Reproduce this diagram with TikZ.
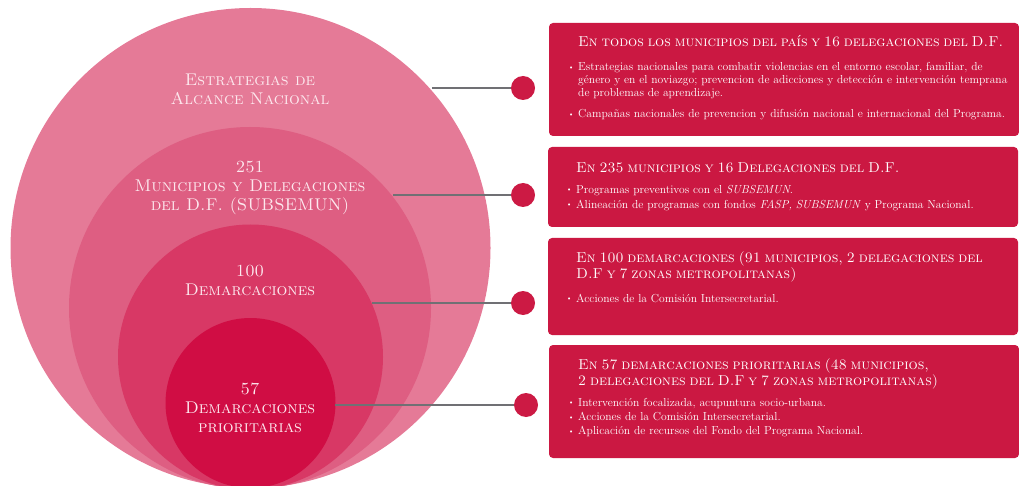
\documentclass[tikz,border=0pt]{standalone}
\usepackage{fontspec}
\usepackage{tikz}
\usetikzlibrary{positioning}
\definecolor{ringA}{HTML}{E57A97}
\definecolor{ringB}{HTML}{DE5E82}
\definecolor{ringC}{HTML}{D83865}
\definecolor{ringD}{HTML}{D00D44}
\definecolor{panelred}{HTML}{CB1842}
\definecolor{knobred}{HTML}{CC1A44}
\definecolor{linkgray}{HTML}{707074}
\definecolor{ringtext}{HTML}{FDE8EE}
\newcommand{\itm}{\par\noindent\hangindent=10pt\hangafter=1\makebox[10pt][l]{\raisebox{1.2pt}{\scriptsize\textbullet}}}
\newcommand{\hdr}[1]{{\leftskip=10pt\scshape\fontsize{14.4}{16}\selectfont #1\par}}
\tikzset{
 ring/.style = {circle, draw = none, inner sep = 0pt, outer sep = 0pt},
 ringlabel/.style = {align = center, text = ringtext, font = \fontsize{17}{19}\selectfont\scshape},
 panel/.style = {draw = none, fill = panelred, rounded corners = 4pt, anchor = north west, minimum width = 470pt, inner sep = 0pt, outer sep = 0pt},
 paneltext/.style = {anchor = north west, text width = 442pt, inner sep = 0pt, text = white, font = \fontsize{11.6}{14}\selectfont},
 knob/.style = {circle, fill = knobred, inner sep = 0pt, minimum size = 24pt},
 link/.style = {line width = 1.2pt, draw = linkgray}
}
\begin{document}
\begin{tikzpicture}[x = 1pt, y = 1pt]
\useasboundingbox (0,0) rectangle (1019,-486);
\begin{scope}
\node[ring, fill = ringA, minimum size = 480pt] (c1) at (250.5,-248) {};
\node[ring, fill = ringB, minimum size = 362pt] (c2) at (250,-308) {};
\node[ring, fill = ringC, minimum size = 265pt] (c3) at (250.5,-357) {};
\node[ring, fill = ringD, minimum size = 170pt] (c4) at (250.5,-403) {};
\node[ringlabel] (l1) at (250,-89) {Estrategias de\\Alcance Nacional};
\node[ringlabel] (l2) at (250,-188) {251\\Municipios y Delegaciones\\del D.F. (SUBSEMUN)};
\node[ringlabel] (l3) at (250,-280) {100\\Demarcaciones};
\node[ringlabel] (l4) at (250,-408) {57\\Demarcaciones\\prioritarias};
\node[knob] (d1) at (523,-88) {};
\node[knob] (d2) at (523,-195) {};
\node[knob] (d3) at (523,-303) {};
\node[knob] (d4) at (526,-405) {};
\draw[link] (d1) -- (d1 -| c1.41.8);
\draw[link] (d2) -- (d2 -| c2.38.6);
\draw[link] (d3) -- (d3 -| c3.24.05);
\draw[link] (d4) -- (d4 -| c4.-1.35);
\node[panel, minimum height = 113pt] (p1) at (549,-23) {};
\node[panel, minimum height = 80pt] (p2) at (548,-147) {};
\node[panel, minimum height = 97pt] (p3) at (548,-238) {};
\node[panel, minimum height = 113pt] (p4) at (549,-345) {};
\node[paneltext, below right = 12pt and 19pt of p1.north west] (t1) {\baselineskip=13pt\hdr{En todos los municipios del país y 16 delegaciones del D.F.}\vspace{11pt}
\itm Estrategias nacionales para combatir violencias en el entorno escolar, familiar, de\linebreak género y en el noviazgo; prevencion de adicciones y detección e intervención temprana\linebreak de problemas de aprendizaje.\par\vspace{7pt}
\itm Campañas nacionales de prevencion y difusión nacional e internacional del Programa.};
\node[paneltext, below right = 15pt and 18pt of p2.north west] (t2) {\hdr{En 235 municipios y 16 Delegaciones del D.F.}\vspace{7pt}
\itm Programas preventivos con el \textit{SUBSEMUN}.\par\vspace{1pt}
\itm Alineación de programas con fondos \textit{FASP, SUBSEMUN} y Programa Nacional.};
\node[paneltext, below right = 13pt and 18pt of p3.north west] (t3) {\hdr{En 100 demarcaciones (91 municipios, 2 delegaciones del\\ D.F y 7 zonas metropolitanas)}\vspace{10pt}
\itm Acciones de la Comisión Intersecretarial.};
\node[paneltext, below right = 13pt and 19pt of p4.north west] (t4) {\baselineskip=14.5pt\hdr{En 57 demarcaciones prioritarias (48 municipios,\\ 2 delegaciones del D.F y 7 zonas metropolitanas)}\vspace{6.5pt}
\itm Intervención focalizada, acupuntura socio-urbana.
\itm Acciones de la Comisión Intersecretarial.
\itm Aplicación de recursos del Fondo del Programa Nacional.};
\end{scope}
\end{tikzpicture}
\end{document}
